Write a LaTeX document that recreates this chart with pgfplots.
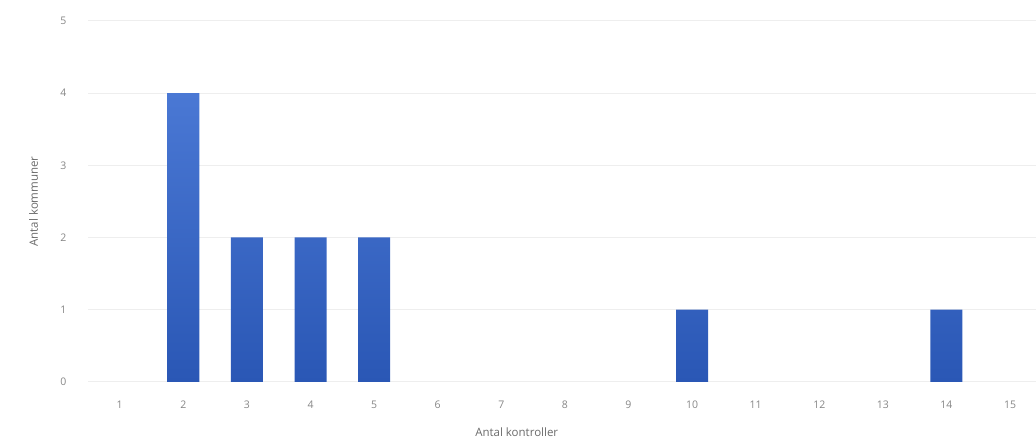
\documentclass[border=0pt]{standalone}
\usepackage{pgfplots}
\pgfplotsset{compat=1.18}
\usepackage{fontspec}
\setmainfont{Open Sans}
\definecolor{gridc}{HTML}{EEEEEE}
\definecolor{tickc}{HTML}{858585}
\definecolor{labc}{HTML}{6A6A6A}
\definecolor{bartop}{HTML}{4A78D4}
\definecolor{barbot}{HTML}{2A57B5}
\begin{document}
\begin{tikzpicture}
\begin{axis}[
    scale only axis,
    width=948pt, height=361pt,
    xmin=0.5, xmax=15.4,
    ymin=0, ymax=5,
    xtick={1,...,15},
    ytick={0,...,5},
    axis line style={draw=none},
    major tick length=0pt,
    ymajorgrids,
    grid style={gridc, line width=1pt},
    tick label style={font=\fontsize{10.5}{12}\selectfont, text=tickc},
    /pgf/number format/assume math mode=true,
    xticklabel style={yshift=-16pt},
    yticklabel style={xshift=-18pt},
    ybar, bar width=32pt,
    clip=false,
    xlabel={Antal kontroller},
    ylabel={Antal kommuner},
    label style={font=\fontsize{11.5}{13}\selectfont, text=labc},
    xlabel style={at={(axis description cs:0.4525,0)}, anchor=base, yshift=-55pt},
    ylabel style={at={(axis description cs:0,0.5)}, anchor=base, yshift=50pt},
]
\addplot[draw=none, top color=bartop, bottom color=barbot] coordinates {
    (2,4) (3,2) (4,2) (5,2) (10,1) (14,1)
};
\path[use as bounding box] (axis description cs:-0.0928,-0.1634) rectangle (axis description cs:1,1.0582);
\end{axis}
\end{tikzpicture}
\end{document}
